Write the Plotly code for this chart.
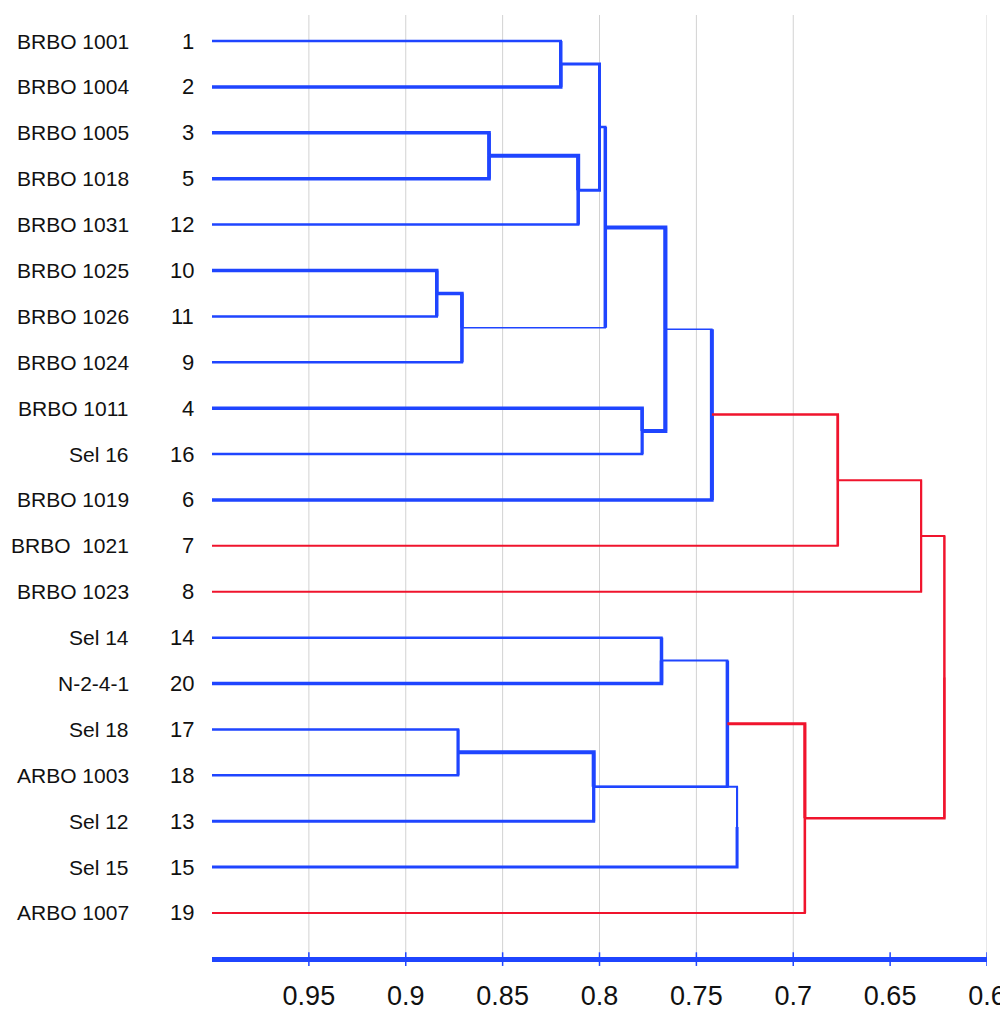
import plotly.graph_objects as go

# ---------------- data ----------------
leaf_names = ["BRBO 1001", "BRBO 1004", "BRBO 1005", "BRBO 1018", "BRBO 1031",
              "BRBO 1025", "BRBO 1026", "BRBO 1024", "BRBO 1011", "Sel 16",
              "BRBO 1019", "BRBO \u00a01021", "BRBO 1023", "Sel 14", "N-2-4-1",
              "Sel 18", "ARBO 1003", "Sel 12", "Sel 15", "ARBO 1007"]
leaf_ids = [1, 2, 3, 5, 12, 10, 11, 9, 4, 16, 6, 7, 8, 14, 20, 17, 18, 13, 15, 19]

# merges: child a, child b, similarity level (L = leaf id, M = merge index)
merge_a = ["L1", "L3", "M1", "M0", "L10", "M4", "M3", "L4", "M6", "M8",
           "M9", "M10", "L14", "L17", "M13", "M12", "M14", "M15", "M11"]
merge_b = ["L2", "L5", "L12", "M2", "L11", "L9", "M5", "L16", "M7", "L6",
           "L7", "L8", "L20", "L18", "L13", "M14", "L15", "L19", "M17"]
merge_height = [0.820, 0.857, 0.811, 0.800, 0.884, 0.871, 0.797, 0.778, 0.766, 0.742,
                0.677, 0.634, 0.768, 0.873, 0.803, 0.734, 0.729, 0.694, 0.622]

tick_vals = [0.95, 0.9, 0.85, 0.8, 0.75, 0.7, 0.65, 0.6]
tick_text = ["0.95", "0.9", "0.85", "0.8", "0.75", "0.7", "0.65", "0.6"]
grid_vals = [0.95, 0.9, 0.85, 0.8, 0.75, 0.7, 0.6]

# ---------------- style ----------------
BLUE = "#1f45ff"
RED = "#f0142d"
red_merges = {10, 11, 17, 18}
# (branch a width, branch b width, vertical width)
merge_widths = [(2.5, 3.5, 3.5), (3.5, 3.5, 3.5), (4, 2.5, 3.5), (3, 3, 3),
                (3.5, 2.5, 3.5), (3.5, 2.5, 3.5), (2.5, 1.5, 3.5), (3.5, 2.5, 3),
                (4, 4, 3.5), (1.5, 3.5, 4), (2.5, 2, 2.5), (2, 2, 2),
                (2.5, 3.5, 3.5), (2.5, 2.5, 3), (4, 3, 3), (2, 2.5, 3.5),
                (2, 3, 2), (3, 2, 2.5), (2, 2.5, 2)]
FONT = "Liberation Sans, Arial, sans-serif"

# ---------------- geometry from data ----------------
LEAF_X = 1.0
pos = {}
for i, lid in enumerate(leaf_ids):
    pos["L%d" % lid] = (LEAF_X, i)

fig = go.Figure()

for k, (a, b, h) in enumerate(zip(merge_a, merge_b, merge_height)):
    xa, ya = pos[a]
    xb, yb = pos[b]
    ym = (ya + yb) / 2.0
    pos["M%d" % k] = (h, ym)
    col = RED if k in red_merges else BLUE
    wa, wb, wv = merge_widths[k]
    for (xc, yc, w) in ((xa, ya, wa), (xb, yb, wb)):
        fig.add_trace(go.Scatter(x=[xc, h, h], y=[yc, yc, ym], mode="lines",
                                 line=dict(color=col, width=w),
                                 hoverinfo="skip", showlegend=False))
    fig.add_trace(go.Scatter(x=[h, h], y=[ya, yb], mode="lines",
                             line=dict(color=col, width=wv),
                             hoverinfo="skip", showlegend=False))

# grid lines (no line at 0.65 in the original)
for g in grid_vals:
    fig.add_shape(type="line", xref="x", yref="paper", x0=g, x1=g, y0=0, y1=1,
                  line=dict(color="#d2d2d2", width=1), layer="below")
# tick marks crossing the axis line
for v in tick_vals:
    fig.add_shape(type="line", xref="x", yref="paper", x0=v, x1=v, y0=0.005, y1=-0.0095,
                  line=dict(color=BLUE, width=1.5), layer="above")

# leaf labels
for i, (nm, lid) in enumerate(zip(leaf_names, leaf_ids)):
    fig.add_annotation(x=-0.1045, y=i, xref="paper", yref="y", text=nm,
                       showarrow=False, xanchor="right", yanchor="middle",
                       font=dict(family=FONT, size=21, color="#111111"))
    fig.add_annotation(x=-0.0206, y=i, xref="paper", yref="y", text=str(lid),
                       showarrow=False, xanchor="right", yanchor="middle",
                       font=dict(family=FONT, size=22, color="#111111"))

fig.update_xaxes(range=[1.0, 0.6], tickvals=tick_vals, ticktext=tick_text,
                 showgrid=False, zeroline=False, showline=True, linecolor=BLUE,
                 linewidth=4.5, ticks="", ticklabelstandoff=11, automargin=False,
                 tickfont=dict(family=FONT, size=27, color="#111111"))
fig.update_yaxes(range=[19.959, -0.567], showgrid=False, zeroline=False,
                 showline=False, showticklabels=False, ticks="", automargin=False)

fig.update_layout(width=1008, height=1012, margin=dict(l=204, r=29, t=7, b=63),
                  paper_bgcolor="white", plot_bgcolor="white")

fig.write_html("out.html")
